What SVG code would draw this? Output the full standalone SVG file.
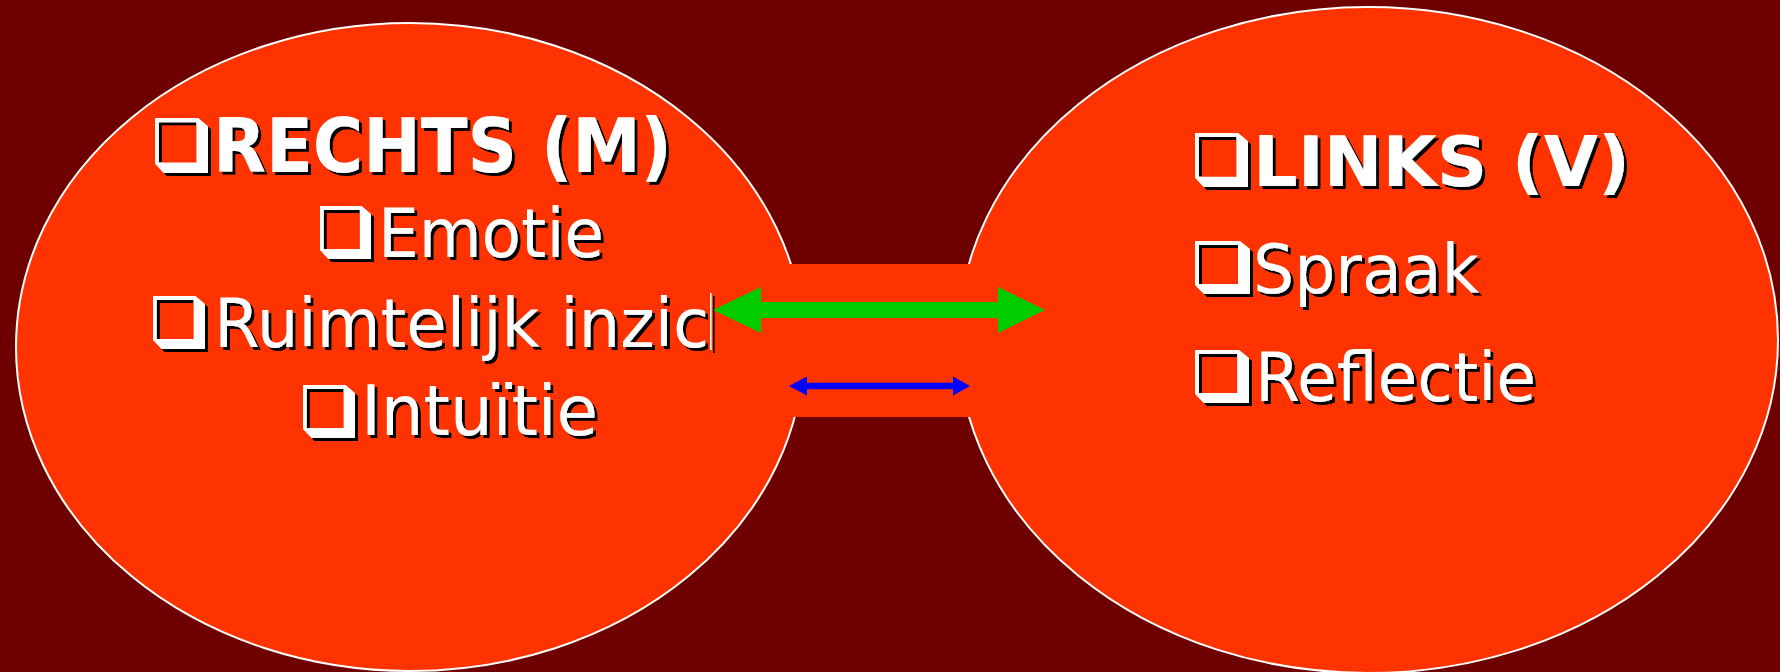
<svg xmlns="http://www.w3.org/2000/svg" xmlns:xlink="http://www.w3.org/1999/xlink" width="1780" height="672" viewBox="0 0 1780 672">
<style>
.lobe{fill:#FF3300;stroke:#FFFFFF;stroke-width:2}
.bridge{fill:#FF3300}
.t{font-family:"DejaVu Sans","Verdana","Liberation Sans",sans-serif;fill:#FFFFFF}
.b{font-weight:bold}
.bx{fill:#FFFFFF;fill-rule:evenodd}
</style>
<defs>
<filter id="sh" x="-10%" y="-20%" width="125%" height="150%">
<feOffset in="SourceAlpha" dx="3" dy="3" result="o"/>
<feMerge><feMergeNode in="o"/><feMergeNode in="SourceGraphic"/></feMerge>
</filter>
<symbol id="bullet" viewBox="0 0 55 53" preserveAspectRatio="none">
<path class="bx" d="M0,0 H45 L55,8 V53 H9 L0,44 Z M4,4 V43 H43 V4 Z"/>
</symbol>
</defs>
<rect x="0" y="0" width="1780" height="672" fill="#6E0000"/>

<g id="node-rechts">
<ellipse class="lobe" cx="410" cy="347" rx="394" ry="324"/>
</g>
<g id="node-links">
<ellipse class="lobe" cx="1368" cy="340" rx="410" ry="333"/>
</g>
<g id="bridge">
<rect class="bridge" x="770" y="264" width="220" height="153"/>
</g>

<g id="node-rechts-text" filter="url(#sh)">
<use xlink:href="#bullet" x="155" y="118" width="53" height="55"/>
<text class="t b" x="213" y="172" font-size="75" textLength="459" lengthAdjust="spacingAndGlyphs">RECHTS (M)</text>
<use xlink:href="#bullet" x="320" y="206" width="51" height="53"/>
<text class="t" x="378" y="257" font-size="68" textLength="226" lengthAdjust="spacingAndGlyphs">Emotie</text>
<use xlink:href="#bullet" x="153" y="296" width="52" height="53"/>
<text class="t" x="214" y="347" font-size="67" textLength="495" lengthAdjust="spacingAndGlyphs">Ruimtelijk inzic</text>
<rect x="710" y="293" width="1.6" height="57" fill="#FFFFFF"/>
<use xlink:href="#bullet" x="303" y="385" width="52" height="53"/>
<text class="t" x="361" y="435" font-size="69" textLength="237" lengthAdjust="spacingAndGlyphs">Intuïtie</text>
</g>

<g id="node-links-text" filter="url(#sh)">
<use xlink:href="#bullet" x="1195" y="133" width="53" height="54"/>
<text class="t b" x="1253" y="186" font-size="70" textLength="377" lengthAdjust="spacingAndGlyphs">LINKS (V)</text>
<use xlink:href="#bullet" x="1195" y="241" width="55" height="53"/>
<text class="t" x="1253" y="293" font-size="67" textLength="226" lengthAdjust="spacingAndGlyphs">Spraak</text>
<use xlink:href="#bullet" x="1195" y="350" width="54" height="53"/>
<text class="t" x="1255" y="401" font-size="67" textLength="281" lengthAdjust="spacingAndGlyphs">Reflectie</text>
</g>

<g id="connectors">
<polygon id="arrow-green" fill="#00CC00" points="713,310 761,287 761,302 998,302 998,287 1045,310 998,333 998,318 761,318 761,333"/>
<polygon id="arrow-blue" fill="#0000FF" points="789,386 807,376.5 807,382.7 953,382.7 953,376.5 970,386 953,395.5 953,389.3 807,389.3 807,395.5"/>
</g>
</svg>
